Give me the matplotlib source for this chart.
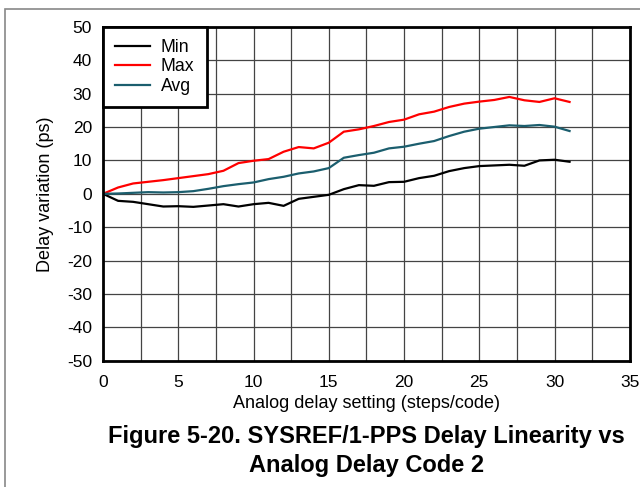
import numpy as np
import matplotlib.pyplot as plt
from matplotlib.patches import Rectangle

plt.rcParams['font.family'] = ['Liberation Sans', 'DejaVu Sans']
plt.rcParams['axes.unicode_minus'] = False

# Analog delay code (steps) and measured delay variation (ps)
codes = list(range(32))
delay_min = [0, -2.1, -2.4, -3.1, -3.8, -3.7, -3.9, -3.5, -3.1, -3.8,
             -3.1, -2.7, -3.6, -1.5, -0.9, -0.3, 1.4, 2.6, 2.4, 3.5,
             3.6, 4.7, 5.4, 6.8, 7.7, 8.3, 8.5, 8.7, 8.4, 10.0, 10.2, 9.6]
delay_max = [0, 1.9, 3.1, 3.6, 4.1, 4.7, 5.3, 5.9, 6.9, 9.2,
             9.9, 10.4, 12.6, 14.0, 13.6, 15.3, 18.6, 19.3, 20.3, 21.5,
             22.2, 23.8, 24.6, 26.0, 27.0, 27.6, 28.1, 29.0, 28.0, 27.5, 28.6, 27.5]
delay_avg = [0, 0.1, 0.3, 0.5, 0.4, 0.5, 0.8, 1.5, 2.3, 2.9,
             3.4, 4.4, 5.1, 6.1, 6.7, 7.7, 10.8, 11.6, 12.3, 13.6,
             14.1, 15.0, 15.8, 17.3, 18.6, 19.5, 20.0, 20.5, 20.3, 20.6, 20.1, 18.8]

fig = plt.figure(figsize=(6.4, 4.87), dpi=100)
ax = fig.add_axes([0.161, 0.259, 0.823, 0.686])

ax.plot(codes, delay_min, color='black', lw=1.6, label='Min')
ax.plot(codes, delay_max, color='#ff0000', lw=1.6, label='Max')
ax.plot(codes, delay_avg, color='#1b5e6e', lw=1.6, label='Avg')

ax.set_xlim(0, 35)
ax.set_ylim(-50, 50)
ax.set_xticks(np.arange(0, 36, 5))
ax.set_xticks(np.arange(0, 35.1, 2.5), minor=True)
ax.set_yticks(np.arange(-50, 51, 10))
ax.grid(True, which='both', color='#444444', lw=0.9)
ax.set_axisbelow(True)
ax.tick_params(which='both', length=0, labelsize=12.5)
ax.tick_params(axis='x', pad=10.5)
ax.tick_params(axis='y', pad=8)
for s in ax.spines.values():
    s.set_linewidth(2)

ax.set_xlabel('Analog delay setting (steps/code)', fontsize=13, labelpad=3)
ax.set_ylabel('Delay variation (ps)', fontsize=13, labelpad=9)

leg = ax.legend(loc='upper left', borderaxespad=0, fancybox=False, fontsize=12.7,
                handlelength=2.0, labelspacing=0.15, borderpad=0.68,
                handletextpad=0.6, framealpha=1)
leg.get_frame().set_edgecolor('black')
leg.get_frame().set_linewidth(2)

fig.text(0.572, 0.103, 'Figure 5-20. SYSREF/1-PPS Delay Linearity vs',
         ha='center', va='center', fontsize=17, fontweight='bold')
fig.text(0.572, 0.045, 'Analog Delay Code 2',
         ha='center', va='center', fontsize=17, fontweight='bold')

# outer frame of the figure
fig.patches.append(Rectangle((5 / 640, -0.05), 1.1, 1 - 9 / 487 + 0.05,
                             transform=fig.transFigure, fill=False,
                             edgecolor='#888888', lw=1.2))

fig.savefig('out.png', dpi=100)
